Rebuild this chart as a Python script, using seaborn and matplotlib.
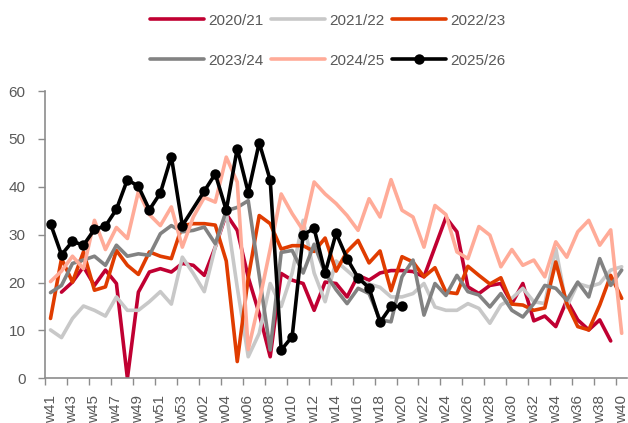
import numpy as np
import pandas as pd
import matplotlib
matplotlib.use("Agg")
import matplotlib.pyplot as plt
import seaborn as sns

# week axis: w41..w53, w01..w40
weeks = [f"w{w:02d}" for w in range(41, 54)] + [f"w{w:02d}" for w in range(1, 41)]

nan = np.nan
s2020 = [nan, 18.0, 20.1, 23.3, 19.4, 22.6, 19.8, 0.0, 18.0, 22.2, 22.9, 22.2, 24.0,
         23.6, 21.5, 27.4, 34.3, 30.9, 21.1, 13.5, 4.5, 21.9, 20.5, 19.8, 14.2, 20.1,
         19.8, 17.0, 21.5, 20.5, 22.0, 22.5, 22.5, 22.3, 21.2, 27.4, 33.6, 30.6, 19.1,
         17.7, 19.4, 19.8, 15.6, 19.8, 12.0, 13.0, 10.8, 16.3, 12.2, 10.1, 12.2, 7.8, nan]
s2021 = [10.1, 8.5, 12.5, 15.1, 14.2, 13.0, 17.0, 14.2, 14.2, 16.0, 18.1, 15.5, 25.3,
         21.9, 18.1, 27.4, 34.7, 19.0, 4.5, 9.4, 19.8, 15.0, 22.0, 33.0, 22.0, 16.0,
         24.5, 22.5, 20.5, 19.7, 19.0, 17.0, 17.0, 17.7, 19.8, 14.9, 14.2, 14.2, 15.6,
         14.6, 11.5, 15.3, 16.7, 18.8, 16.0, 15.6, 27.1, 14.9, 19.8, 19.1, 19.8, 22.6, 23.3]
s2022 = [12.5, 25.0, 20.1, 26.4, 18.4, 19.1, 26.7, 23.6, 21.7, 26.4, 25.5, 25.0, 31.9,
         32.3, 32.3, 32.0, 24.5, 3.5, 21.0, 34.0, 32.3, 27.0, 27.7, 27.7, 26.5, 29.3,
         22.4, 26.5, 28.8, 24.1, 26.6, 18.3, 25.4, 24.3, 21.2, 23.1, 18.0, 17.7, 23.4,
         21.5, 19.7, 21.0, 15.5, 15.3, 14.2, 14.7, 24.3, 15.6, 10.8, 10.1, 15.3, 21.5, 16.7]
s2023 = [17.9, 19.4, 24.0, 24.7, 25.5, 23.6, 27.8, 25.5, 26.0, 25.7, 30.2, 31.9, 30.6,
         30.9, 31.6, 28.1, 35.0, 35.7, 37.1, 21.5, 5.9, 26.3, 26.7, 22.0, 28.0, 22.0,
         18.5, 15.6, 18.8, 17.7, 12.2, 11.8, 21.2, 24.7, 13.2, 19.8, 17.3, 21.5, 18.1,
         17.4, 14.9, 17.7, 14.2, 12.8, 15.6, 19.4, 18.8, 16.3, 20.1, 17.0, 25.0, 19.4, 22.6]
s2024 = [20.2, 22.4, 25.5, 22.9, 33.0, 26.9, 31.5, 29.2, 39.0, 34.2, 31.9, 35.8, 27.4,
         33.7, 37.8, 36.8, 46.2, 41.0, 6.0, 16.0, 27.0, 38.5, 34.4, 30.9, 41.0, 38.5,
         36.5, 34.0, 30.9, 37.5, 33.7, 41.5, 35.1, 33.7, 27.4, 36.1, 34.2, 26.4, 25.0,
         31.7, 29.9, 23.3, 26.9, 23.6, 24.7, 21.2, 28.5, 25.3, 30.6, 33.0, 27.8, 31.0, 9.4]
s2025 = [32.3, 25.8, 28.6, 27.8, 31.1, 31.8, 35.3, 41.5, 40.1, 35.2, 38.7, 46.3, 31.9,
         nan, 39.1, 42.7, 35.1, 48.0, 38.8, 49.2, 41.4, 5.9, 8.7, 30.0, 31.3, 22.0,
         30.3, 25.0, 21.0, 18.9, 11.7, 15.0, 15.0] + [nan] * 20

seasons = ["2020/21", "2021/22", "2022/23", "2023/24", "2024/25", "2025/26"]
colors = ["#C00032", "#C8C8C8", "#E03C00", "#828282", "#FFAB98", "#000000"]

sns.set_theme(style="white")
plt.rcParams["font.family"] = ["Liberation Sans", "DejaVu Sans"]

fig = plt.figure(figsize=(6.28, 4.23), dpi=100)
ax = fig.add_axes([0.0717, 0.1057, 0.927, 0.679])

x_idx = np.arange(len(weeks))
handles = []
for name, vals, col in zip(seasons, [s2020, s2021, s2022, s2023, s2024, s2025], colors):
    df = pd.DataFrame({"x": x_idx, "y": vals}).dropna()
    is_last = name == "2025/26"
    sns.lineplot(data=df, x="x", y="y", ax=ax, color=col, linewidth=2.6,
                 marker="o" if is_last else None, markersize=7.5 if is_last else 0,
                 markeredgewidth=0, errorbar=None, label=name, legend=False)
    handles.append(ax.lines[-1])

ax.set_xlim(-0.5, 52.5)
ax.set_ylim(0, 60)
ax.set_xlabel("")
ax.set_ylabel("")

# labels every 2 weeks, tick marks between categories
ax.set_xticks(x_idx[::2])
ax.set_xticklabels(weeks[::2], rotation=90)
ax.set_xticks(x_idx[::2] - 0.5, minor=True)
ax.tick_params(axis="x", which="major", length=0, pad=12, labelsize=11, labelcolor="#595959")
ax.tick_params(axis="x", which="minor", length=5, width=1, color="#8C8C8C", bottom=True)
ax.set_yticks(range(0, 61, 10))
ax.tick_params(axis="y", length=5, width=1, color="#8C8C8C", pad=9, labelsize=11,
               labelcolor="#595959", left=True)

for side in ["top", "right"]:
    ax.spines[side].set_visible(False)
for side in ["left", "bottom"]:
    ax.spines[side].set_color("#8C8C8C")
    ax.spines[side].set_linewidth(1.2)

# legend: 2 rows x 3 columns (matplotlib fills column-wise)
order = [0, 3, 1, 4, 2, 5]
fig.legend([handles[i] for i in order], [seasons[i] for i in order],
           ncol=3, frameon=False, loc="upper center", bbox_to_anchor=(0.522, 1.0),
           fontsize=11, labelcolor="#595959", handlelength=3.5, handletextpad=0.3,
           columnspacing=0.5, labelspacing=1.7)

fig.savefig("out.png", dpi=100)
